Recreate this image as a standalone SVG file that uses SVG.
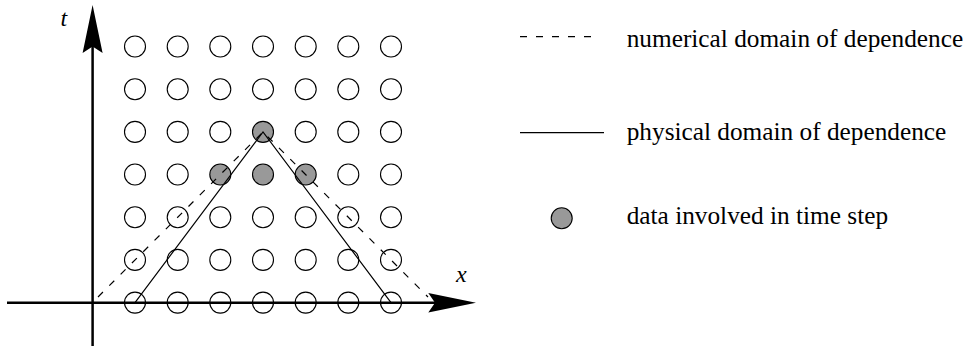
<svg xmlns="http://www.w3.org/2000/svg" width="969" height="348" viewBox="0 0 969 348">
<style>
.pt{fill:#fff;stroke:#000;stroke-width:1.1}
.on{fill:#999;stroke:#000;stroke-width:1.1}
.solid{fill:none;stroke:#000;stroke-width:1.2}
.dash{fill:none;stroke:#000;stroke-width:1.2;stroke-dasharray:7 9}
.axis{fill:none;stroke:#000;stroke-width:2.5}
.head{fill:#000;stroke:none}
.lbl{font-family:"Liberation Serif","Times New Roman",serif;font-size:25.3px;fill:#000}
.var{font-family:"Liberation Serif","Times New Roman",serif;font-size:24px;font-style:italic;fill:#000}
</style>
<defs>
<circle id="c" r="10.5"/>
</defs>
<g id="grid">
<g id="row1">
<use href="#c" class="pt" x="135" y="46.5"/><use href="#c" class="pt" x="177.7" y="46.5"/><use href="#c" class="pt" x="220.3" y="46.5"/><use href="#c" class="pt" x="263" y="46.5"/><use href="#c" class="pt" x="305.7" y="46.5"/><use href="#c" class="pt" x="348.3" y="46.5"/><use href="#c" class="pt" x="391" y="46.5"/>
</g>
<g id="row2">
<use href="#c" class="pt" x="135" y="89.2"/><use href="#c" class="pt" x="177.7" y="89.2"/><use href="#c" class="pt" x="220.3" y="89.2"/><use href="#c" class="pt" x="263" y="89.2"/><use href="#c" class="pt" x="305.7" y="89.2"/><use href="#c" class="pt" x="348.3" y="89.2"/><use href="#c" class="pt" x="391" y="89.2"/>
</g>
<g id="row3">
<use href="#c" class="pt" x="135" y="131.9"/><use href="#c" class="pt" x="177.7" y="131.9"/><use href="#c" class="pt" x="220.3" y="131.9"/><use href="#c" class="on" x="263" y="131.9"/><use href="#c" class="pt" x="305.7" y="131.9"/><use href="#c" class="pt" x="348.3" y="131.9"/><use href="#c" class="pt" x="391" y="131.9"/>
</g>
<g id="row4">
<use href="#c" class="pt" x="135" y="174.5"/><use href="#c" class="pt" x="177.7" y="174.5"/><use href="#c" class="on" x="220.3" y="174.5"/><use href="#c" class="on" x="263" y="174.5"/><use href="#c" class="on" x="305.7" y="174.5"/><use href="#c" class="pt" x="348.3" y="174.5"/><use href="#c" class="pt" x="391" y="174.5"/>
</g>
<g id="row5">
<use href="#c" class="pt" x="135" y="217.2"/><use href="#c" class="pt" x="177.7" y="217.2"/><use href="#c" class="pt" x="220.3" y="217.2"/><use href="#c" class="pt" x="263" y="217.2"/><use href="#c" class="pt" x="305.7" y="217.2"/><use href="#c" class="pt" x="348.3" y="217.2"/><use href="#c" class="pt" x="391" y="217.2"/>
</g>
<g id="row6">
<use href="#c" class="pt" x="135" y="259.9"/><use href="#c" class="pt" x="177.7" y="259.9"/><use href="#c" class="pt" x="220.3" y="259.9"/><use href="#c" class="pt" x="263" y="259.9"/><use href="#c" class="pt" x="305.7" y="259.9"/><use href="#c" class="pt" x="348.3" y="259.9"/><use href="#c" class="pt" x="391" y="259.9"/>
</g>
<g id="row7">
<use href="#c" class="pt" x="135" y="302.6"/><use href="#c" class="pt" x="177.7" y="302.6"/><use href="#c" class="pt" x="220.3" y="302.6"/><use href="#c" class="pt" x="263" y="302.6"/><use href="#c" class="pt" x="305.7" y="302.6"/><use href="#c" class="pt" x="348.3" y="302.6"/><use href="#c" class="pt" x="391" y="302.6"/>
</g>
</g>
<g id="connectors">
<polyline class="dash" points="98,297 263,131.9 428,297"/>
<polyline class="solid" points="135,302.6 263,131.9 391,302.6"/>
<line class="axis" x1="7" y1="302.8" x2="440" y2="302.8"/>
<polygon class="head" points="476,302.8 428.3,293 435,302.8 428.3,312.6"/>
<line class="axis" x1="92.6" y1="346" x2="92.6" y2="42"/>
<polygon class="head" points="92.6,5 82.6,53 92.6,46.5 102.6,53"/>
</g>
<g id="axis-labels">
<text class="var" x="60.5" y="26">t</text>
<text class="var" x="456" y="281.5">x</text>
</g>
<g id="legend">
<g id="legend-dashed">
<line class="dash" x1="520" y1="36.7" x2="600" y2="36.7"/>
<text class="lbl" x="626.7" y="46.7">numerical domain of dependence</text>
</g>
<g id="legend-solid">
<line class="solid" x1="520" y1="132.7" x2="604" y2="132.7"/>
<text class="lbl" x="626.7" y="140">physical domain of dependence</text>
</g>
<g id="legend-dot">
<circle class="on" cx="561.7" cy="218.3" r="10.5"/>
<text class="lbl" x="626.7" y="224">data involved in time step</text>
</g>
</g>
</svg>
